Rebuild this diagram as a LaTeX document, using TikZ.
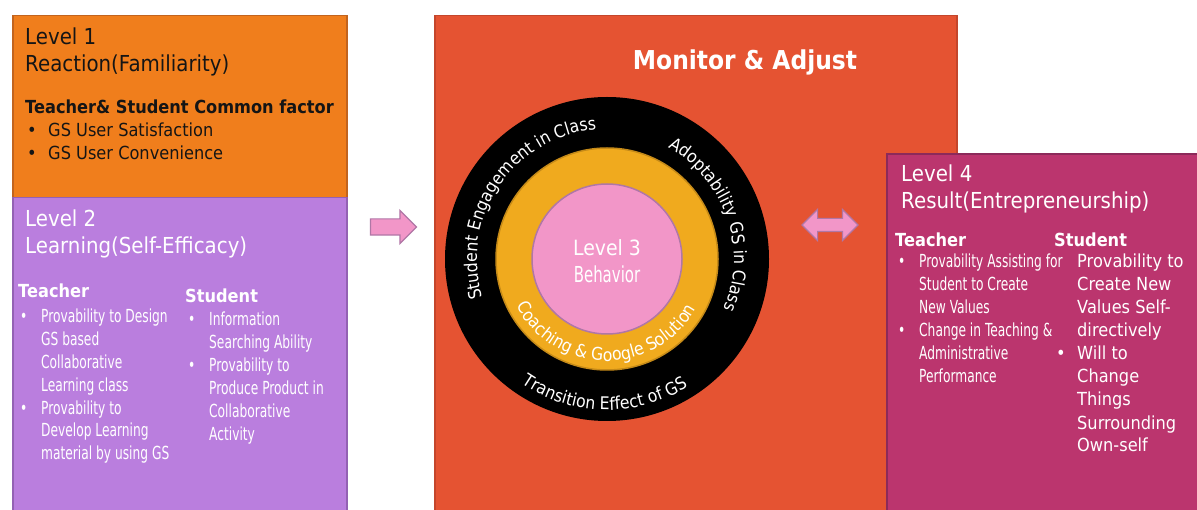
\documentclass[tikz,border=0pt]{standalone}
\usepackage{fontspec}
\setmainfont{DejaVu Sans}[FakeStretch=0.9]
\newfontfamily\narrowfam{DejaVu Sans}[FakeStretch=0.68]
\usetikzlibrary{
  shapes.arrows,
  decorations.text
}
\definecolor{lvOne}{HTML}{F07E1C}
\definecolor{lvOneLine}{HTML}{C2641E}
\definecolor{lvTwo}{HTML}{BA7EDE}
\definecolor{lvTwoLine}{HTML}{9461B4}
\definecolor{lvMon}{HTML}{E55332}
\definecolor{lvMonLine}{HTML}{C4462C}
\definecolor{lvFour}{HTML}{BB356E}
\definecolor{lvFourLine}{HTML}{8C2A5A}
\definecolor{lvGold}{HTML}{F0AA1E}
\definecolor{lvGoldLine}{HTML}{C58A18}
\definecolor{lvPink}{HTML}{F296C8}
\definecolor{lvPinkLine}{HTML}{B077A6}
\definecolor{lvInk}{HTML}{151515}
\newcommand\lvtitlefont{\fontsize{22}{27}\selectfont}
\newcommand\lvtagfont{\fontsize{18}{23}\selectfont\bfseries}
\newcommand\lvitemfont{\fontsize{18}{23}\selectfont}
\newcommand\lvsqueezefont{\narrowfam\fontsize{18}{23}\selectfont}
\newcommand\lvringfont{\fontsize{17.5}{20}\selectfont}
\newcommand\lvbullet{\makebox[21pt][l]{\textbullet}}
\newcommand\lvindent{\hspace*{21pt}}
\tikzset{
  levelbox/.style={draw, line width=1.5pt, anchor=north west, inner sep=0},
  % multi-line nodes: base west sits on the last line
  leveltitle/.style={font=\lvtitlefont, align=left, anchor=base west, inner sep=0},
  roletag/.style={font=\lvtagfont, anchor=base west, inner sep=0},
  itemlist/.style={font=\lvitemfont, align=left, anchor=base west, inner sep=0},
  squeezelist/.style={font=\lvsqueezefont, align=left, anchor=base west, inner sep=0},
  ringdisc/.style={circle, inner sep=0, line width=1.5pt},
  ringtext/.style={decorate, decoration={text along path, text={|\lvringfont|#1},
    text align=center, text color=white}},
  blockarrow/.style={fill=lvPink, draw=lvPinkLine, line width=1.2pt, inner sep=0}
}

\begin{document}
\begin{tikzpicture}[x=1pt, y=1pt]
  \useasboundingbox (0,0) rectangle (1197,-510);

  % level 1 and level 2 column
  \node[levelbox, fill=lvOne, draw=lvOneLine, minimum width=334, minimum height=182] (lvone) at (12,-15) {};
  \node[levelbox, fill=lvTwo, draw=lvTwoLine, minimum width=334, minimum height=330] (lvtwo) at (12,-197) {};

  \node[leveltitle, text=lvInk] (lvonetitle) at (25,-72) {Level 1\\Reaction(Familiarity)};
  \node[roletag, text=lvInk] (lvonetag) at (25,-114) {Teacher\& Student Common factor};
  \node[itemlist, text=lvInk] (lvonelist) at (27,-160) {\lvbullet GS User Satisfaction\\\lvbullet GS User Convenience};

  \node[leveltitle, text=white] (lvtwotitle) at (25,-254) {Level 2\\Learning(Self-Efficacy)};
  \node[roletag, text=white] (lvtwoteacher) at (18,-298) {Teacher};
  \node[roletag, text=white] (lvtwostudent) at (185,-303) {Student};
  \node[squeezelist, text=white] (lvtwotlist) at (20,-460) {\lvbullet Provability to Design\\\lvindent GS based\\\lvindent Collaborative\\\lvindent Learning class\\\lvbullet Provability to\\\lvindent Develop Learning\\\lvindent material by using GS};
  \node[squeezelist, text=white] (lvtwoslist) at (188,-440) {\lvbullet Information\\\lvindent Searching Ability\\\lvbullet Provability to\\\lvindent Produce Product in\\\lvindent Collaborative\\\lvindent Activity};

  \node[blockarrow, single arrow, single arrow head extend=8.5, text height=7.5pt, text depth=7.5pt, minimum height=46] (arrowin) at (389.5,-227) {};

  % monitor & adjust with level 3 rings
  \node[levelbox, fill=lvMon, draw=lvMonLine, minimum width=522, minimum height=510] (monitor) at (434,-15) {};
  \node[font=\bfseries\fontsize{26}{30}\selectfont, text=white, anchor=base] (montitle) at (745,-70) {Monitor \& Adjust};

  \node[ringdisc, fill=black, minimum size=324] (outerring) at (607,-259) {};
  \node[ringdisc, fill=lvGold, draw=lvGoldLine, minimum size=222] (goldring) at (outerring.center) {};
  \node[ringdisc, fill=lvPink, draw=lvPinkLine, minimum size=150] (core) at (outerring.center) {};
  \node[font=\fontsize{21}{25}\selectfont, text=white, anchor=base] (lvthree) at (607,-256) {Level 3};
  \node[font=\narrowfam\fontsize{22}{26}\selectfont, text=white, anchor=base] (behavior) at (607,-283) {Behavior};

  \path[ringtext={Student Engagement in Class}] (core.center) ++(211:130) arc[start angle=211, end angle=81, radius=130];
  \path[ringtext={Adoptability GS in Class}] (core.center) ++(84:127) arc[start angle=84, end angle=-46, radius=127];
  \path[ringtext={Transition Effect of GS}] (core.center) ++(204:151) arc[start angle=204, end angle=334, radius=151];
  \path[ringtext={Coaching {\&} Google Solution}] (core.center) ++(184:102) arc[start angle=184, end angle=354, radius=102];

  \node[blockarrow, double arrow, double arrow head extend=9, text height=6pt, text depth=6pt, minimum height=56] (arrowlink) at (830,-225) {};

  % level 4
  \node[levelbox, fill=lvFour, draw=lvFourLine, line width=2pt, minimum width=330, minimum height=370] (lvfour) at (886,-153) {};
  \node[leveltitle, text=white] (lvfourtitle) at (901,-209) {Level 4\\Result(Entrepreneurship)};
  \node[roletag, text=white] (lvfourteacher) at (895,-247) {Teacher};
  \node[roletag, text=white] (lvfourstudent) at (1054,-247) {Student};
  \node[squeezelist, text=white] (lvfourtlist) at (898,-383) {\lvbullet Provability Assisting for\\\lvindent Student to Create\\\lvindent New Values\\\lvbullet Change in Teaching \&\\\lvindent Administrative\\\lvindent Performance};
  \node[itemlist, text=white] (lvfourslist) at (1056,-452) {\lvindent Provability to\\\lvindent Create New\\\lvindent Values Self-\\\lvindent directively\\\lvbullet Will to\\\lvindent Change\\\lvindent Things\\\lvindent Surrounding\\\lvindent Own-self};
\end{tikzpicture}
\end{document}
